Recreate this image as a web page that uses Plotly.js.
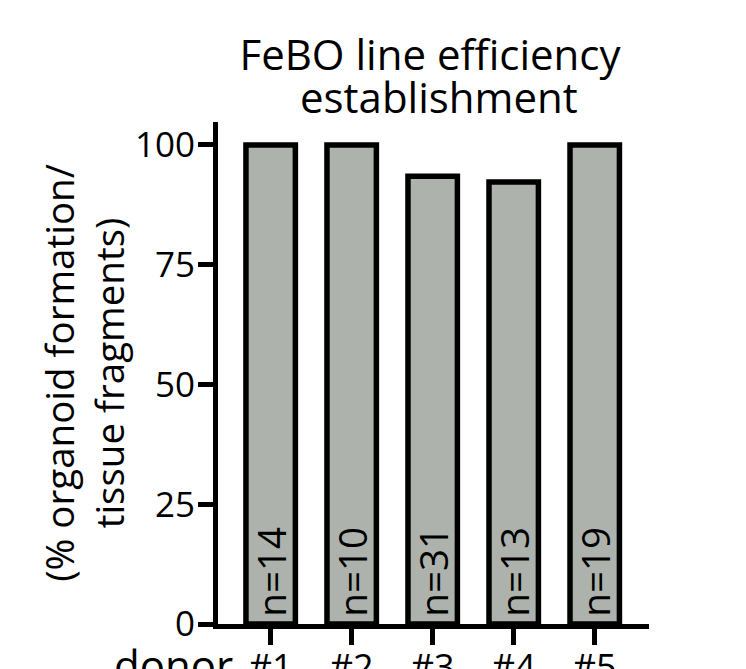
<!DOCTYPE html>
<html>
<head>
<meta charset="utf-8">
<script src="https://cdn.plot.ly/plotly-3.0.1.min.js"></script>
<style>html,body{margin:0;padding:0;background:#fff;}</style>
</head>
<body>
<div id="chart" style="width:746px;height:669px;"></div>
<script>
const donors = ["#1", "#2", "#3", "#4", "#5"];
const efficiency = [100, 100, 93.5, 92.3, 100];
const nLabels = ["n=14", "n=10", "n=31", "n=13", "n=19"];
const yTicks = [0, 25, 50, 75, 100];
const titleLine1 = "FeBO line efficiency";
const titleLine2 = "establishment";
const xPrefix = "donor";

const FONT = "Open Sans, Noto Sans, sans-serif";

const trace = {
  type: "bar",
  x: donors,
  y: efficiency,
  width: 0.61,
  marker: { color: "#adb3ac", line: { color: "#000", width: 5.5 } },
  hoverinfo: "skip"
};

const annotations = donors.map((d, i) => ({
  x: d, y: 0, xref: "x", yref: "y",
  text: nLabels[i], textangle: -90, showarrow: false,
  xanchor: "center", yanchor: "bottom", yshift: 5,
  font: { family: FONT, size: 38.5, color: "#000" }
}));
annotations.push({
  x: donors[0], y: 0, xref: "x", yref: "y",
  text: xPrefix, showarrow: false, xanchor: "right", yanchor: "top",
  xshift: -36, yshift: -10,
  font: { family: FONT, size: 42, color: "#000" }
});
annotations.push({
  x: 0.513, y: 0.99, xref: "paper", yref: "paper",
  text: titleLine2, showarrow: false, xanchor: "center", yanchor: "bottom",
  font: { family: FONT, size: 42, color: "#000" }
});

const layout = {
  width: 746, height: 669,
  margin: { l: 218, r: 97, t: 122, b: 45, pad: 0 },
  paper_bgcolor: "#fff", plot_bgcolor: "#fff",
  showlegend: false,
  title: {
    text: titleLine1,
    font: { family: FONT, size: 42, color: "#000" },
    x: 430 / 746, xref: "container", xanchor: "center",
    y: 1 - 41 / 669, yref: "container", yanchor: "top"
  },
  xaxis: {
    type: "category", range: [-0.65, 4.67],
    showgrid: false, zeroline: false,
    showline: true, linecolor: "#000", linewidth: 5,
    ticks: "outside", ticklen: 16, tickwidth: 5, tickcolor: "#000",
    ticklabelstandoff: -8,
    tickfont: { family: FONT, size: 36, color: "#000" },
    fixedrange: true
  },
  yaxis: {
    range: [0, 104.8],
    tickvals: yTicks, ticktext: yTicks.map(String),
    showgrid: false, zeroline: false,
    showline: true, linecolor: "#000", linewidth: 5,
    ticks: "outside", ticklen: 15, tickwidth: 5, tickcolor: "#000",
    ticklabelstandoff: -4,
    tickfont: { family: FONT, size: 35, color: "#000" },
    title: {
      text: "(% organoid formation/<br>tissue fragments)",
      font: { family: FONT, size: 38.5, color: "#000" },
      standoff: 0
    },
    fixedrange: true
  },
  annotations: annotations
};

Plotly.newPlot("chart", [trace], layout, { staticPlot: true, displayModeBar: false });
</script>
</body>
</html>
